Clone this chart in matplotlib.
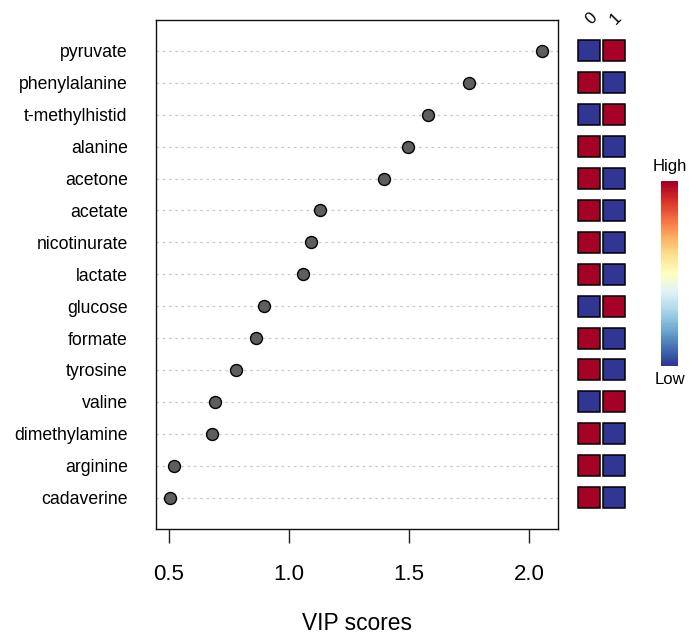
import numpy as np
import matplotlib
matplotlib.use("Agg")
import matplotlib.pyplot as plt
from matplotlib.patches import Rectangle

plt.rcParams['font.family'] = ['Liberation Sans', 'DejaVu Sans']

# ---- data ----
metabolites = ["pyruvate", "phenylalanine", "t-methylhistid", "alanine", "acetone",
               "acetate", "nicotinurate", "lactate", "glucose", "formate",
               "tyrosine", "valine", "dimethylamine", "arginine", "cadaverine"]
vip_scores = [2.054, 1.750, 1.579, 1.496, 1.396,
              1.129, 1.092, 1.058, 0.896, 0.862,
              0.779, 0.692, 0.679, 0.521, 0.504]
groups = ["0", "1"]
# relative level of each metabolite in group 0 and group 1 (1 = high, 0 = low)
level_group0 = [0, 1, 0, 1, 1, 1, 1, 1, 0, 1, 1, 0, 1, 1, 1]
level_group1 = [1, 0, 1, 0, 0, 0, 0, 0, 1, 0, 0, 1, 0, 0, 0]
xticks = [0.5, 1.0, 1.5, 2.0]

W, H = 689, 638
fig = plt.figure(figsize=(W / 100, H / 100), dpi=100)

box_l, box_r, box_t, box_b = 155.5, 557.7, 19.5, 529.0
ax = fig.add_axes([box_l / W, 1 - box_b / H, (box_r - box_l) / W, (box_b - box_t) / H])

n = len(metabolites)
ypos = np.arange(n, 0, -1)  # top row = n
ylim = (0.015, n + 0.985)

for y in ypos:
    ax.axhline(y, color='#c8c8c8', linestyle=(0, (2, 3)), linewidth=0.9, zorder=1)
ax.scatter(vip_scores, ypos, s=8.6 ** 2, facecolor='#5e5e5e', edgecolor='black',
           linewidth=1.0, zorder=3)
ax.set_xlim(0.4437, 2.1196)
ax.set_ylim(*ylim)
ax.set_xticks(xticks)
ax.set_xticklabels([f"{t:.1f}" for t in xticks], fontsize=16)
ax.tick_params(axis='x', length=10, width=1.0, pad=15, color='#222222')
ax.set_yticks(ypos)
ax.set_yticklabels(metabolites, fontsize=12.7)
ax.tick_params(axis='y', length=0, pad=20)
for s in ax.spines.values():
    s.set_linewidth(1.0)
    s.set_color('#111111')
ax.set_xlabel("VIP scores", fontsize=16.4, labelpad=20)

# ---- heat squares ----
cmap = plt.get_cmap('RdYlBu_r')
hx = fig.add_axes([576.5 / W, 1 - box_b / H, 50 / W, (box_b - box_t) / H])
hx.set_xlim(-0.5, 1.5)
hx.set_ylim(*ylim)
hx.axis('off')
sq_w, sq_h = 0.88, 0.66
for j, levels in enumerate([level_group0, level_group1]):
    for y, v in zip(ypos, levels):
        hx.add_patch(Rectangle((j - sq_w / 2, y - sq_h / 2), sq_w, sq_h,
                               facecolor=cmap(0.999 if v else 0.0), edgecolor='black',
                               linewidth=1.1, clip_on=False))
    hx.text(j + 0.08, n + 1.03, groups[j], rotation=45, ha='center', va='center',
            fontsize=12, clip_on=False)

# ---- color key ----
cb = fig.add_axes([661 / W, 1 - 366 / H, 17 / W, 185 / H])
grad = np.linspace(1, 0, 100).reshape(-1, 1)
cb.imshow(grad, cmap=cmap, aspect='auto', interpolation='nearest')
cb.axis('off')
fig.text(669.5 / W, 1 - 166 / H, "High", ha='center', va='center', fontsize=12)
fig.text(669.5 / W, 1 - 380 / H, "Low", ha='center', va='center', fontsize=12)

fig.savefig("out.png", dpi=100)
